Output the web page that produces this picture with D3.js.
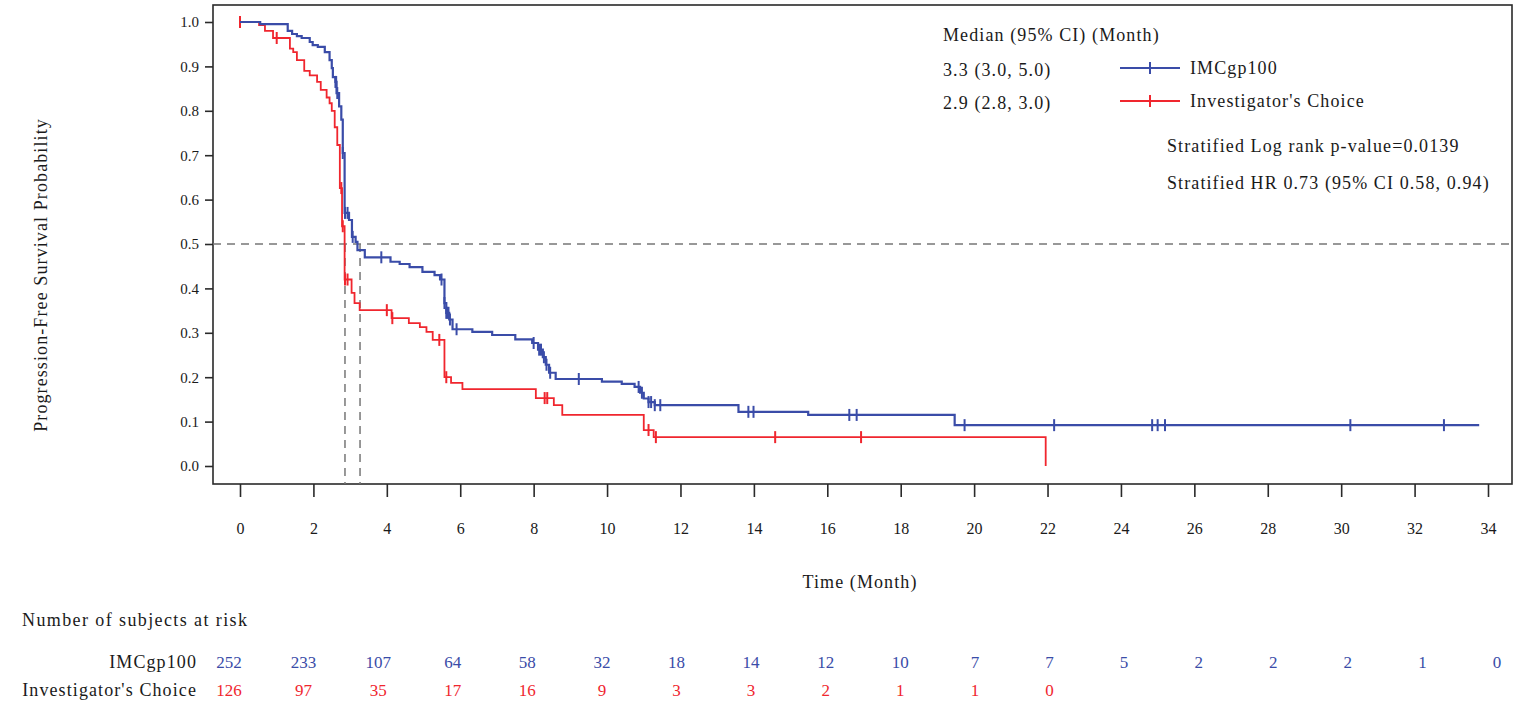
<!DOCTYPE html>
<html><head><meta charset="utf-8">
<script src="https://cdn.jsdelivr.net/npm/d3@7/dist/d3.min.js"></script>
<style>
body{margin:0;background:#fff}
svg{display:block}
text{font-family:"Liberation Serif","Times New Roman",serif}
</style>
</head><body>
<svg id="c" width="1530" height="710"></svg>
<script>
// ---------------- data ----------------
const timeTicks = [0,2,4,6,8,10,12,14,16,18,20,22,24,26,28,30,32,34];
const survTicks = [0.0,0.1,0.2,0.3,0.4,0.5,0.6,0.7,0.8,0.9,1.0];
const seriesNames = ["IMCgp100", "Investigator's Choice"];
const medianHeader = "Median (95% CI) (Month)";
const medianText = ["3.3 (3.0, 5.0)", "2.9 (2.8, 3.0)"];
const medianTimes = [3.27, 2.86];
const statsText = ["Stratified Log rank p-value=0.0139", "Stratified HR 0.73 (95% CI 0.58, 0.94)"];

// Kaplan-Meier steps [time (month), survival]
const blueSteps = [
  [0,1.0],[0.55,0.995],[1.3,0.98],[1.42,0.973],[1.55,0.968],[1.68,0.964],[1.9,0.955],
  [1.98,0.948],[2.12,0.944],[2.31,0.932],[2.44,0.914],[2.5,0.896],[2.53,0.876],
  [2.6,0.865],[2.63,0.84],[2.7,0.81],[2.76,0.78],[2.8,0.705],[2.85,0.57],[2.97,0.554],
  [3.05,0.516],[3.15,0.505],[3.2,0.486],[3.4,0.47],[4.1,0.46],[4.35,0.455],[4.62,0.448],
  [4.97,0.437],[5.3,0.43],[5.45,0.42],[5.57,0.367],[5.62,0.345],[5.7,0.33],[5.79,0.308],
  [6.33,0.302],[6.87,0.295],[7.5,0.285],[7.96,0.277],[8.12,0.262],[8.25,0.245],
  [8.33,0.228],[8.42,0.21],[8.6,0.196],[9.86,0.19],[10.4,0.185],[10.75,0.178],
  [10.9,0.165],[11.0,0.152],[11.13,0.144],[11.3,0.137],[13.58,0.122],[15.48,0.115],
  [19.47,0.092],[33.76,0.092]
];
const redSteps = [
  [0,1.0],[0.52,0.993],[0.68,0.98],[0.9,0.964],[1.36,0.94],[1.45,0.932],[1.55,0.914],
  [1.75,0.89],[1.9,0.88],[2.1,0.865],[2.2,0.847],[2.36,0.83],[2.44,0.817],[2.5,0.80],
  [2.58,0.763],[2.65,0.723],[2.72,0.626],[2.78,0.54],[2.85,0.42],[3.04,0.39],
  [3.12,0.367],[3.26,0.351],[4.13,0.333],[4.6,0.322],[4.9,0.313],[5.08,0.302],
  [5.25,0.284],[5.57,0.20],[5.75,0.187],[6.06,0.173],[8.06,0.153],[8.55,0.137],
  [8.78,0.115],[11.0,0.081],[11.27,0.065],[21.95,0.0]
];
const blueCensor = [2.6,2.62,2.65,2.8,2.86,2.93,3.07,3.85,5.49,5.57,5.62,5.65,5.68,5.72,5.9,
  8.0,8.15,8.2,8.28,8.35,8.45,9.23,10.86,10.95,11.13,11.2,11.3,11.45,13.85,13.99,
  16.6,16.8,19.74,22.18,24.85,25.0,25.2,30.25,32.8];
const redCensor = [0,1.0,2.76,2.8,2.86,2.93,4.0,4.15,5.43,5.62,8.3,8.37,11.13,11.33,14.58,16.92];

const atRiskBlue = [252,233,107,64,58,32,18,14,12,10,7,7,5,2,2,2,1,0];
const atRiskRed  = [126,97,35,17,16,9,3,3,2,1,1,0];

// ---------------- drawing ----------------
const BLUE = "#3a4ca8", RED = "#f0262e", INK = "#1a1a1a";
const svg = d3.select("#c");
const x = d3.scaleLinear().domain([0,34]).range([240,1488]);
const y = d3.scaleLinear().domain([0,1]).range([466,22]);
const xRisk = d3.scaleLinear().domain([0,34]).range([229,1497]);
const frame = {l:213, r:1512, t:5, b:484};
const FS = 18, LS = 1.1;

// frame
svg.append("rect").attr("x",frame.l).attr("y",frame.t)
  .attr("width",frame.r-frame.l).attr("height",frame.b-frame.t)
  .attr("fill","none").attr("stroke","#2a2a2a").attr("stroke-width",1.6);

// y axis
const yAxis = d3.axisLeft(y).tickValues(survTicks).tickFormat(d3.format(".1f")).tickSize(8).tickPadding(6);
const gy = svg.append("g").attr("transform",`translate(${frame.l},0)`).call(yAxis);
gy.select(".domain").remove();
gy.selectAll("line").attr("stroke","#2a2a2a").attr("stroke-width",1.6);
gy.selectAll("text").attr("font-size",15).attr("font-family","Liberation Serif").style("fill",INK);

// x axis
const xAxis = d3.axisBottom(x).tickValues(timeTicks).tickFormat(d3.format("d")).tickSize(13).tickPadding(26);
const gx = svg.append("g").attr("transform",`translate(0,${frame.b})`).call(xAxis);
gx.select(".domain").remove();
gx.selectAll("line").attr("stroke","#2a2a2a").attr("stroke-width",1.6);
gx.selectAll("text").attr("font-size",16).attr("font-family","Liberation Serif").style("fill",INK);

// reference lines
svg.append("line").attr("x1",frame.l).attr("x2",frame.r).attr("y1",y(0.5)).attr("y2",y(0.5))
  .attr("stroke","#777").attr("stroke-width",1.5).attr("stroke-dasharray","8,6");
svg.selectAll(".med").data(medianTimes).join("line")
  .attr("x1",d=>x(d)).attr("x2",d=>x(d)).attr("y1",y(0.5)).attr("y2",frame.b)
  .attr("stroke","#777").attr("stroke-width",1.5).attr("stroke-dasharray","8,6");

// curves
const line = d3.line().x(d=>x(d[0])).y(d=>y(d[1])).curve(d3.curveStepAfter);
function survAt(steps,t){ let s=steps[0][1]; for(const p of steps){ if(p[0]<=t) s=p[1]; } return s; }
function drawSeries(steps,cens,color,w){
  svg.append("path").datum(steps).attr("d",line).attr("fill","none")
    .attr("stroke",color).attr("stroke-width",w);
  svg.append("g").selectAll("line").data(cens).join("line")
    .attr("x1",d=>x(d)).attr("x2",d=>x(d))
    .attr("y1",d=>y(survAt(steps,d))-6).attr("y2",d=>y(survAt(steps,d))+6)
    .attr("stroke",color).attr("stroke-width",2);
}
drawSeries(redSteps,redCensor,RED,1.8);
drawSeries(blueSteps,blueCensor,BLUE,2.2);

// legend / annotations
const txt = (s,xx,yy,opts={}) => svg.append("text").attr("x",xx).attr("y",yy)
  .attr("font-size",opts.fs||FS).attr("letter-spacing",opts.ls!=null?opts.ls:LS)
  .attr("text-anchor",opts.anchor||"start").style("fill",opts.fill||INK).text(s);
txt(medianHeader,943,41);
medianText.forEach((m,i)=>txt(m,943,76+i*33));
[BLUE,RED].forEach((c,i)=>{
  const yy = 68+i*33;
  svg.append("line").attr("x1",1120).attr("x2",1180).attr("y1",yy).attr("y2",yy).attr("stroke",c).attr("stroke-width",2);
  svg.append("line").attr("x1",1150).attr("x2",1150).attr("y1",yy-6).attr("y2",yy+6).attr("stroke",c).attr("stroke-width",2);
  txt(seriesNames[i],1190,yy+6);
});
statsText.forEach((s,i)=>txt(s,1167,152+i*37));

// axis titles
svg.append("text").attr("transform","translate(47,275) rotate(-90)").attr("text-anchor","middle")
  .attr("font-size",FS).attr("letter-spacing",LS).style("fill",INK).text("Progression-Free Survival Probability");
txt("Time (Month)",860,588,{anchor:"middle"});

// at-risk table
txt("Number of subjects at risk",22,626,{ls:1.4});
txt(seriesNames[0],197,668,{anchor:"end"});
txt(seriesNames[1],197,696,{anchor:"end"});
svg.append("g").selectAll("text").data(atRiskBlue).join("text")
  .attr("x",(d,i)=>xRisk(timeTicks[i])).attr("y",668).attr("text-anchor","middle")
  .attr("font-size",17).style("fill",BLUE).text(d=>d);
svg.append("g").selectAll("text").data(atRiskRed).join("text")
  .attr("x",(d,i)=>xRisk(timeTicks[i])).attr("y",696).attr("text-anchor","middle")
  .attr("font-size",17).style("fill",RED).text(d=>d);
</script>
</body></html>
